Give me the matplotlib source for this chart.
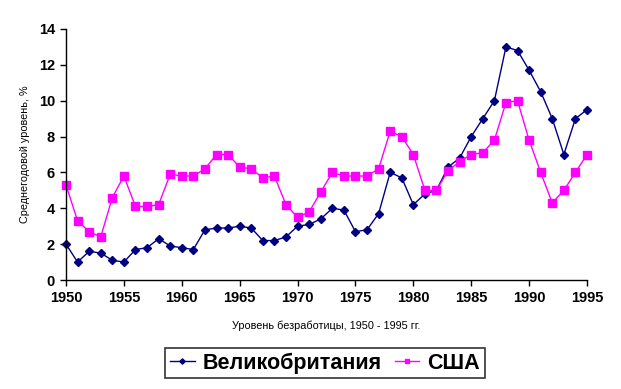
import matplotlib
matplotlib.use("Agg")
import matplotlib.pyplot as plt

years = list(range(1950, 1996))
uk = [2.0, 1.0, 1.6, 1.5, 1.1, 1.0, 1.7, 1.8, 2.3, 1.9,
      1.8, 1.7, 2.8, 2.9, 2.9, 3.0, 2.9, 2.2, 2.2, 2.4,
      3.0, 3.1, 3.4, 4.0, 3.9, 2.7, 2.8, 3.7, 6.0, 5.7,
      4.2, 4.8, 5.0, 6.3, 6.8, 8.0, 9.0, 10.0, 13.0, 12.8,
      11.7, 10.5, 9.0, 7.0, 9.0, 9.5]
usa = [5.3, 3.3, 2.7, 2.4, 4.6, 5.8, 4.1, 4.1, 4.2, 5.9,
       5.8, 5.8, 6.2, 7.0, 7.0, 6.3, 6.2, 5.7, 5.8, 4.2,
       3.5, 3.8, 4.9, 6.0, 5.8, 5.8, 5.8, 6.2, 8.3, 8.0,
       7.0, 5.0, 5.0, 6.1, 6.6, 7.0, 7.1, 7.8, 9.9, 10.0,
       7.8, 6.0, 4.3, 5.0, 6.0, 7.0]
x_ticks = [1950, 1955, 1960, 1965, 1970, 1975, 1980, 1985, 1990, 1995]
y_ticks = [0, 2, 4, 6, 8, 10, 12, 14]

plt.rcParams['font.family'] = ['Liberation Sans', 'DejaVu Sans']

fig = plt.figure(figsize=(6.21, 3.89), dpi=100)
ax = fig.add_axes([66/621, 1-280/389, (587-66)/621, (280-29)/389])

l1, = ax.plot(years, uk, color='#000080', marker='D', markersize=4.5, lw=1.0,
              label='Великобритания')
l2, = ax.plot(years, usa, color='#FF00FF', marker='s', markersize=6, lw=1.0,
              label='США')

ax.set_xlim(1950, 1995)
ax.set_ylim(0, 14)
ax.set_xticks(x_ticks)
ax.set_yticks(y_ticks)
for lab in ax.get_xticklabels() + ax.get_yticklabels():
    lab.set_fontweight('bold')
    lab.set_fontsize(10.5)
ax.tick_params(direction='out', length=4, width=1, colors='black', pad=4)
ax.spines['top'].set_visible(False)
ax.spines['right'].set_visible(False)
ax.spines['left'].set_linewidth(1)
ax.spines['bottom'].set_linewidth(1)
for sp in ax.spines.values():
    sp.set_clip_on(False)
for ln in (l1, l2):
    ln.set_clip_on(False)

ax.set_xlabel('Уровень безработицы, 1950 - 1995 гг.', fontsize=7.8, labelpad=11)
ax.set_ylabel('Среднегодовой уровень, %', fontsize=7.8, labelpad=6)

leg = fig.legend(handles=[l1, l2], loc='center', bbox_to_anchor=(325/621, 1-363/389),
                 ncol=2, frameon=True, fancybox=False, edgecolor='black',
                 prop={'weight': 'bold', 'size': 15.5}, handlelength=1.15,
                 handletextpad=0.37, columnspacing=0.6, borderpad=0.22,
                 borderaxespad=0, markerscale=0.6)
leg.get_frame().set_linewidth(1.2)

fig.savefig('out.png', dpi=100)
